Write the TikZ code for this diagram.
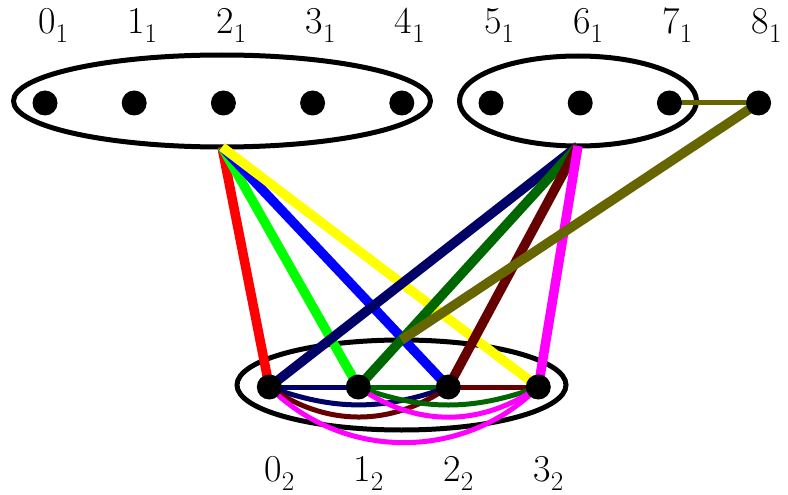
\documentclass[tikz,border=0pt]{standalone}
\usepackage{fontspec}
\setmainfont{Latin Modern Roman}
\usetikzlibrary{shapes.geometric}
\definecolor{cnavy}{rgb}{0,0,0.4}
\definecolor{cdkgreen}{rgb}{0,0.4,0}
\definecolor{cmaroon}{rgb}{0.4,0,0}
\definecolor{colive}{rgb}{0.4,0.4,0}
\definecolor{cmagenta}{rgb}{1,0,1}
\definecolor{cyellow}{rgb}{1,1,0}
\definecolor{cred}{rgb}{1,0,0}
\definecolor{cgreen}{rgb}{0,1,0}
\definecolor{cblue}{rgb}{0,0,1}
\newcommand\sublbl[2]{#1\raisebox{-9pt}{\fontsize{27}{27}\selectfont #2}}
\tikzset{
  dot/.style={circle,fill=black,inner sep=0pt,minimum size=25pt},
  setell/.style={ellipse,draw=black,line width=5pt,inner sep=0pt,outer sep=0pt},
  thickedge/.style={line width=9.5pt},
  thinedge/.style={line width=5pt},
  lbl/.style={anchor=base,inner sep=0pt,font=\fontsize{38}{40}\selectfont}
}
\begin{document}
\begin{tikzpicture}[x=1pt,y=-1pt]
\useasboundingbox (0,0) rectangle (788,495);
% set ellipses
\node[setell,minimum width=417pt,minimum height=92pt] (eL) at (222,101) {};
\node[setell,minimum width=237pt,minimum height=90pt] (eR) at (578,101) {};
\node[setell,minimum width=329pt,minimum height=90pt] (eB) at (401.5,385) {};
% top vertices
\foreach \i/\x in {0/45,1/134.2,2/223.4,3/312.6,4/401.8,5/491,6/580.2,7/669.4,8/758.6}{
  \coordinate (tc\i) at (\x,103);
  \node[lbl] (tl\i) at (\x+8,34) {\sublbl{\i}{1}};
}
% bottom vertices
\foreach \i/\x in {0/269.3,1/358.3,2/448.3,3/538.3}{
  \coordinate (bc\i) at (\x,387);
  \node[lbl] (bl\i) at (\x+10,481) {\sublbl{\i}{2}};
}
% thick edges from left set
\draw[thickedge,cred] (eL.south) -- (bc0);
\draw[thickedge,cgreen] (eL.south) -- (bc1);
\draw[thickedge,cblue] (eL.south) -- (bc2);
\draw[thickedge,cyellow] (eL.south) -- (bc3);
% thick edges from right set
\draw[thickedge,cnavy] (eR.south) -- (bc0);
\draw[thickedge,cdkgreen] (eR.south) -- (bc1);
\draw[thickedge,cmaroon] (eR.south) -- (bc2);
\draw[thickedge,cmagenta] (eR.south) -- (bc3);
% olive
\draw[thickedge,colive] (tc8) -- (eB.north);
\draw[thinedge,colive] (tc7) -- (tc8);
% bottom thin edges
\draw[thinedge,cnavy] (bc0) -- (bc1);
\draw[thinedge,cdkgreen] (bc1) -- (bc2);
\draw[thinedge,cmaroon] (bc2) -- (bc3);
\draw[thinedge,cnavy] (bc0) to[bend right=20] (bc2);
\draw[thinedge,cmaroon] (bc0) to[bend right=35] (bc2);
\draw[thinedge,cdkgreen] (bc1) to[bend right=20] (bc3);
\draw[thinedge,cmagenta] (bc1) to[bend right=35] (bc3);
\draw[thinedge,cmagenta] (bc0) to[bend right=45] (bc3);
% dots
\foreach \i in {0,...,8}{ \node[dot] (t\i) at (tc\i) {}; }
\foreach \i in {0,...,3}{ \node[dot] (b\i) at (bc\i) {}; }
\end{tikzpicture}
\end{document}
